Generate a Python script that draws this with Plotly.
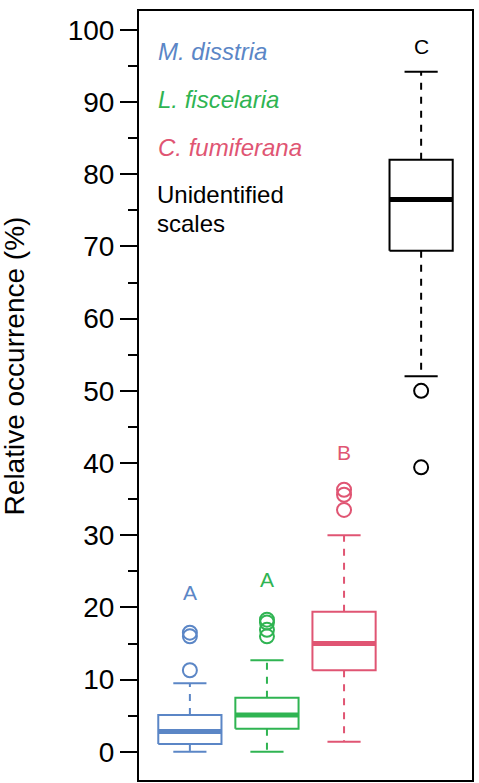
import plotly.graph_objects as go

# ---- data ----
groups = ["M. disstria", "L. fiscelaria", "C. fumiferana", "Unidentified scales"]
positions = [1, 2, 3, 4]
lower_whisker = [0.0, 0.0, 1.4, 52.0]
q1 = [1.1, 3.2, 11.3, 69.4]
median = [2.8, 5.1, 15.0, 76.5]
q3 = [5.1, 7.5, 19.4, 82.0]
upper_whisker = [9.5, 12.7, 30.0, 94.2]
outliers = [
    [11.3, 16.0, 16.5],
    [16.0, 16.9, 17.9, 18.3],
    [33.5, 35.6, 36.3],
    [50.0, 39.4],
]
letters = ["A", "A", "B", "C"]
letter_y = [22.0, 23.9, 41.4, 97.7]
colors = ["#5b86c6", "#2fb452", "#e05573", "#000000"]

y_ticks = list(range(0, 101, 10))

BOX_HALF = 0.41
CAP_HALF = 0.215

fig = go.Figure()
for i, pos in enumerate(positions):
    c = colors[i]
    # box
    fig.add_trace(go.Scatter(
        x=[pos - BOX_HALF, pos + BOX_HALF, pos + BOX_HALF, pos - BOX_HALF, pos - BOX_HALF],
        y=[q1[i], q1[i], q3[i], q3[i], q1[i]],
        mode="lines", line=dict(color=c, width=2), hoverinfo="skip", showlegend=False))
    # median
    fig.add_trace(go.Scatter(
        x=[pos - BOX_HALF, pos + BOX_HALF], y=[median[i], median[i]],
        mode="lines", line=dict(color=c, width=5), hoverinfo="skip", showlegend=False))
    # whiskers (dashed)
    fig.add_trace(go.Scatter(
        x=[pos, pos], y=[q3[i], upper_whisker[i]],
        mode="lines", line=dict(color=c, width=2, dash="7px,7px"), hoverinfo="skip", showlegend=False))
    fig.add_trace(go.Scatter(
        x=[pos, pos], y=[q1[i], lower_whisker[i]],
        mode="lines", line=dict(color=c, width=2, dash="7px,7px"), hoverinfo="skip", showlegend=False))
    # caps
    for wv in (upper_whisker[i], lower_whisker[i]):
        fig.add_trace(go.Scatter(
            x=[pos - CAP_HALF, pos + CAP_HALF], y=[wv, wv],
            mode="lines", line=dict(color=c, width=2), hoverinfo="skip", showlegend=False))
    # outliers
    fig.add_trace(go.Scatter(
        x=[pos] * len(outliers[i]), y=outliers[i], mode="markers",
        marker=dict(symbol="circle-open", size=14, color=c, line=dict(width=2, color=c)),
        hoverinfo="skip", showlegend=False))
    # letters
    fig.add_annotation(x=pos, y=letter_y[i], xref="x", yref="y", text=letters[i],
                       showarrow=False, font=dict(size=21, color=c, family="Liberation Sans"))

# group legend texts
legend_y = [97.0, 90.3, 83.7]
for i in range(3):
    fig.add_annotation(x=0.052, y=legend_y[i], xref="paper", yref="y", xanchor="left",
                       text="<i>" + groups[i] + "</i>", showarrow=False,
                       font=dict(size=24, color=colors[i], family="Liberation Sans"))
unid_lines = groups[3].split(" ")
for j, yy in enumerate([77.2, 73.3]):
    fig.add_annotation(x=0.052, y=yy, xref="paper", yref="y", xanchor="left",
                       text=unid_lines[j], showarrow=False, height=26, borderpad=0,
                       font=dict(size=24, color=colors[3], family="Liberation Sans"))

# y-axis title
fig.add_annotation(x=-0.375, y=0.538, xref="paper", yref="paper", text="Relative occurrence (%)",
                   textangle=-90, showarrow=False, xanchor="center", yanchor="middle",
                   font=dict(size=28, color="black", family="Liberation Sans"))

fig.update_layout(
    width=479, height=783,
    margin=dict(l=139, r=7, t=11, b=3),
    paper_bgcolor="white", plot_bgcolor="white",
    font=dict(family="Liberation Sans", color="black"),
    xaxis=dict(range=[0.34, 4.66], showticklabels=False, ticks="", showgrid=False, zeroline=False,
               showline=True, mirror=True, linecolor="black", linewidth=2),
    yaxis=dict(range=[-3.9, 102.6], tickvals=y_ticks, ticktext=[str(v) for v in y_ticks],
               ticks="outside", ticklen=17, tickwidth=2, tickcolor="black",
               tickfont=dict(size=28, color="black", family="Liberation Sans"),
               minor=dict(tickvals=[v + 5 for v in y_ticks[:-1]], ticks="outside", ticklen=9,
                          tickwidth=2, tickcolor="black", showgrid=False),
               showgrid=False, zeroline=False, showline=True, mirror=True,
               linecolor="black", linewidth=2),
)

fig.write_html("out.html")
